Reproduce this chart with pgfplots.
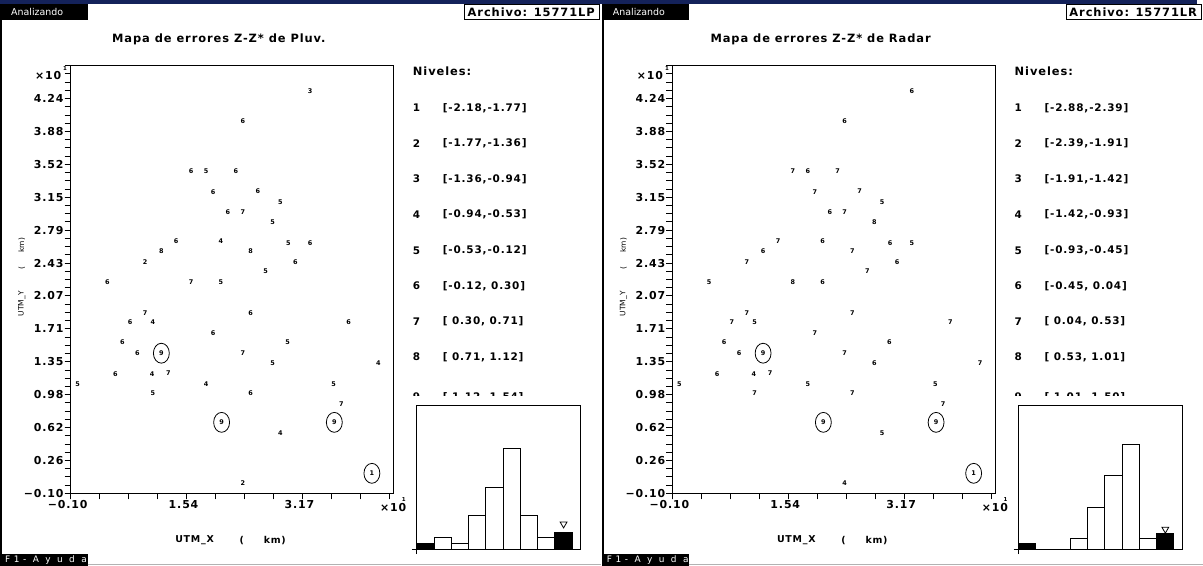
\documentclass[border=0pt]{standalone}
\usepackage{fontspec}
\setmainfont{DejaVu Sans}
\newfontfamily\bfont[LetterSpace=8]{DejaVu Sans}
\newfontfamily\sfont[LetterSpace=40]{DejaVu Sans}
\usepackage{pgfplots}
\usepackage{pgfplotstable}
\pgfplotsset{compat=1.18}
\usetikzlibrary{shapes.geometric}

\definecolor{navy}{HTML}{14225A}

\newcommand\ftitle{\bfont\bfseries\fontsize{11.5}{13}\selectfont}
\newcommand\ftick{\bfont\bfseries\fontsize{11}{13}\selectfont}
\newcommand\flev{\bfont\bfseries\fontsize{10.5}{12}\selectfont}
\newcommand\fdig{\bfseries\fontsize{6.5}{7}\selectfont}
\newcommand\fsmall{\fontsize{9.5}{11}\selectfont}
\newcommand\fhelp{\sfont\fontsize{9}{10}\selectfont}
\newcommand\fylab{\fontsize{7.5}{9}\selectfont}
\newcommand\fxlab{\bfont\bfseries\fontsize{9.5}{11}\selectfont}
\newcommand\fsup{\bfseries\fontsize{5.5}{6}\selectfont}

% station positions (UTM, x10 km) and error level for rain gauge (lp) and radar (lr)
\pgfplotstableread{
x y lp lr
3.28 4.32 3 6
2.33 3.99 6 6
1.60 3.44 6 7
1.81 3.44 5 6
2.23 3.44 6 7
1.91 3.21 6 7
2.54 3.22 6 7
2.86 3.10 5 5
2.12 2.99 6 6
2.33 2.99 7 7
2.75 2.88 5 8
1.39 2.67 6 7
2.02 2.67 4 6
2.97 2.65 5 6
3.28 2.65 6 5
1.18 2.56 8 6
2.44 2.56 8 7
0.95 2.44 2 7
3.07 2.44 6 6
2.65 2.34 5 7
0.42 2.22 6 5
1.60 2.22 7 8
2.02 2.22 5 6
0.95 1.88 7 7
2.44 1.88 6 7
0.74 1.78 6 7
1.06 1.78 4 5
3.82 1.78 6 7
1.91 1.66 6 7
0.63 1.56 6 6
2.96 1.56 5 6
0.84 1.44 6 6
2.33 1.44 7 7
2.75 1.33 5 6
4.24 1.33 4 7
0.53 1.21 6 6
1.05 1.21 4 4
1.28 1.22 7 7
0.00 1.10 5 5
1.81 1.10 4 5
3.61 1.10 5 5
1.06 1.00 5 7
2.44 1.00 6 7
3.72 0.88 7 7
2.86 0.56 4 5
2.33 0.01 2 4
}\stations

% stations in the extreme classes, drawn circled
\pgfplotstableread{
x y lev
1.18 1.44 9
2.03 0.68 9
3.62 0.68 9
4.15 0.12 1
}\outliers

% class counts: white bars (w) and black extreme bars (b)
\pgfplotstableread{
bin pw pb rw rb
0.5 0 1 0 1
1.5 2 0 0 0
2.5 1 0 0 0
3.5 6 0 2 0
4.5 11 0 8 0
5.5 18 0 14 0
6.5 6 0 20 0
7.5 2 0 2 0
8.5 0 3 0 3
}\hist

\pgfplotsset{
  mapaxis/.style={
    anchor=south west, scale only axis, width=325pt, height=430pt,
    xmin=-0.10, xmax=4.46, ymin=-0.10, ymax=4.60, clip=false,
    axis line style={black, line width=1pt},
    tick pos=left, tick align=outside,
    major tick length=6pt, minor tick length=6pt,
    tick style={black, line width=0.9pt},
    xtick={-0.10,1.535,3.17}, xticklabels={−0.10,1.54,3.17},
    minor xtick={-0.10,0.30875,...,4.46},
    ytick={-0.10,0.261538,0.623077,0.984615,1.346154,1.707692,2.069231,2.430769,2.792308,3.153846,3.515385,3.876923,4.238462},
    yticklabels={−0.10,0.26,0.62,0.98,1.35,1.71,2.07,2.43,2.79,3.15,3.52,3.88,4.24},
    minor ytick={-0.10,-0.009615,...,4.61},
    ticklabel style={font=\ftick},
    xticklabel style={inner sep=1pt, xshift=-3pt},
    yticklabel style={inner sep=1pt},
  },
  histaxis/.style={
    anchor=south west, scale only axis, width=165pt, height=144pt,
    xmin=0, xmax=9.5, ymin=0, clip=false,
    axis line style={black, line width=1pt},
    tick pos=left, tick align=outside, major tick length=5pt,
    tick style={black, line width=1pt},
    xtick={0}, ytick={0}, xticklabels={}, yticklabels={},
  },
  digits/.style={only marks, mark=*, mark size=0pt, mark options={draw=none, fill=none},
    point meta=explicit symbolic, nodes near coords,
    every node near coord/.append style={font=\fdig, anchor=center, inner sep=0pt, text=black}},
  circled/.style={only marks, mark=*, mark size=0pt, mark options={draw=none, fill=none},
    point meta=explicit symbolic, nodes near coords,
    every node near coord/.append style={font=\fdig, anchor=center, inner sep=0pt, text=black,
      ellipse, draw=black, line width=0.8pt, minimum width=16pt, minimum height=20pt}},
}

\newcommand\MapAxis[2]{%
  \begin{axis}[mapaxis, at={({#1pt+71pt},-496pt)}]
    \addplot[digits] table[x=x, y=y, meta=#2] {\stations};
    \addplot[circled] table[x=x, y=y, meta=lev] {\outliers};
  \end{axis}}

\newcommand\HistAxis[5]{%
  \begin{axis}[histaxis, at={({#1pt+419pt},-552pt)}, ymax=#2]
    \addplot[ybar, bar width=1, bar shift=0pt, fill=white, draw=black, line width=1pt] table[x=bin, y=#3] {\hist};
    \addplot[ybar, bar width=1, bar shift=0pt, fill=black, draw=black, line width=1pt] table[x=bin, y=#4] {\hist};
    \addplot[only marks, mark=triangle, mark size=4pt, mark options={rotate=180, line width=0.8pt, fill=white}] coordinates {(8.5,#5)};
  \end{axis}}

% window frame, headers and footers of one panel
\newcommand\Frame[2]{%
  \begin{scope}[x=1pt, y=-1pt, xshift=#1pt]
    \fill[black] (0,4) rectangle (2,569);
    \fill[black] (0,4) rectangle (88,20);
    \node[anchor=west, text=white, font=\fsmall, inner sep=0pt] at (11,12) {Analizando};
    \draw[black, fill=white, line width=1pt] (467,4.5) rectangle (603,19.5);
    \node[anchor=west, font=\ftitle, inner sep=0pt] at (470,12.5) {Archivo: #2};
    \fill[black] (0,557) rectangle (88,569);
    \node[anchor=west, text=white, font=\fhelp, inner sep=0pt] at (5,563) {F1- A y u d a};
    \draw[black!30, line width=1pt] (88,567.5) -- (604,567.5);
    % axis captions
    \node[anchor=base west, font=\ftick, inner sep=0pt] at (35,80) {×10};
    \node[font=\fsup, inner sep=0pt] at (65.5,69) {1};
    \node[anchor=base west, font=\ftick, inner sep=0pt] at (382,514) {×10};
    \node[font=\fsup, inner sep=0pt] at (406,502) {1};
    \node[anchor=west, font=\fxlab, inner sep=0pt] at (176,543) {UTM\_X};
    \node[font=\fxlab, inner sep=0pt] at (243,543) {(};
    \node[anchor=west, font=\fxlab, inner sep=0pt] at (265,543) {km)};
    \node[anchor=west, rotate=90, font=\fylab, inner sep=0pt] at (22,318) {UTM\_Y};
    \node[rotate=90, font=\fylab, inner sep=0pt] at (22,269) {(};
    \node[anchor=west, rotate=90, font=\fylab, inner sep=0pt] at (22,254) {km)};
    \node[anchor=west, font=\ftitle, inner sep=0pt] at (415,72) {Niveles:};
  \end{scope}}

\begin{document}
\begin{tikzpicture}
\begin{scope}[x=1pt, y=-1pt]
  \useasboundingbox (0,0) rectangle (1203,569);
  \fill[white] (0,0) rectangle (1203,569);
  \fill[navy] (0,0) rectangle (1203,4);
\end{scope}

\Frame{0}{15771LP}
\Frame{605}{15771LR}

\begin{scope}[x=1pt, y=-1pt]
  \node[font=\ftitle] at (220,40) {Mapa de errores Z-Z* de Pluv.};
  \node[font=\ftitle] at (825,40) {Mapa de errores Z-Z* de Radar};
  % class limits, rain gauge errors
  \begin{scope}[every node/.style={anchor=west, font=\flev, inner sep=0pt}]
    \node at (415,108.5) {1}; \node at (445,108.5) {[-2.18,-1.77]};
    \node at (415,144.3) {2}; \node at (445,144.3) {[-1.77,-1.36]};
    \node at (415,180.1) {3}; \node at (445,180.1) {[-1.36,-0.94]};
    \node at (415,215.9) {4}; \node at (445,215.9) {[-0.94,-0.53]};
    \node at (415,251.7) {5}; \node at (445,251.7) {[-0.53,-0.12]};
    \node at (415,287.5) {6}; \node at (445,287.5) {[-0.12, 0.30]};
    \node at (415,323.3) {7}; \node at (445,323.3) {[ 0.30, 0.71]};
    \node at (415,359.1) {8}; \node at (445,359.1) {[ 0.71, 1.12]};
    \begin{scope}
      \clip (400,380) rectangle (600,398);
      \node at (415,399) {9}; \node at (445,399) {[ 1.12, 1.54]};
    \end{scope}
    % class limits, radar errors
    \node at (1020,108.5) {1}; \node at (1050,108.5) {[-2.88,-2.39]};
    \node at (1020,144.3) {2}; \node at (1050,144.3) {[-2.39,-1.91]};
    \node at (1020,180.1) {3}; \node at (1050,180.1) {[-1.91,-1.42]};
    \node at (1020,215.9) {4}; \node at (1050,215.9) {[-1.42,-0.93]};
    \node at (1020,251.7) {5}; \node at (1050,251.7) {[-0.93,-0.45]};
    \node at (1020,287.5) {6}; \node at (1050,287.5) {[-0.45, 0.04]};
    \node at (1020,323.3) {7}; \node at (1050,323.3) {[ 0.04, 0.53]};
    \node at (1020,359.1) {8}; \node at (1050,359.1) {[ 0.53, 1.01]};
    \begin{scope}
      \clip (1005,380) rectangle (1200,398);
      \node at (1020,399) {9}; \node at (1050,399) {[ 1.01, 1.50]};
    \end{scope}
  \end{scope}
\end{scope}

\MapAxis{0}{lp}
\MapAxis{605}{lr}
\HistAxis{0}{25.7}{pw}{pb}{4.5}
\HistAxis{605}{27.4}{rw}{rb}{3.8}
\end{tikzpicture}
\end{document}
